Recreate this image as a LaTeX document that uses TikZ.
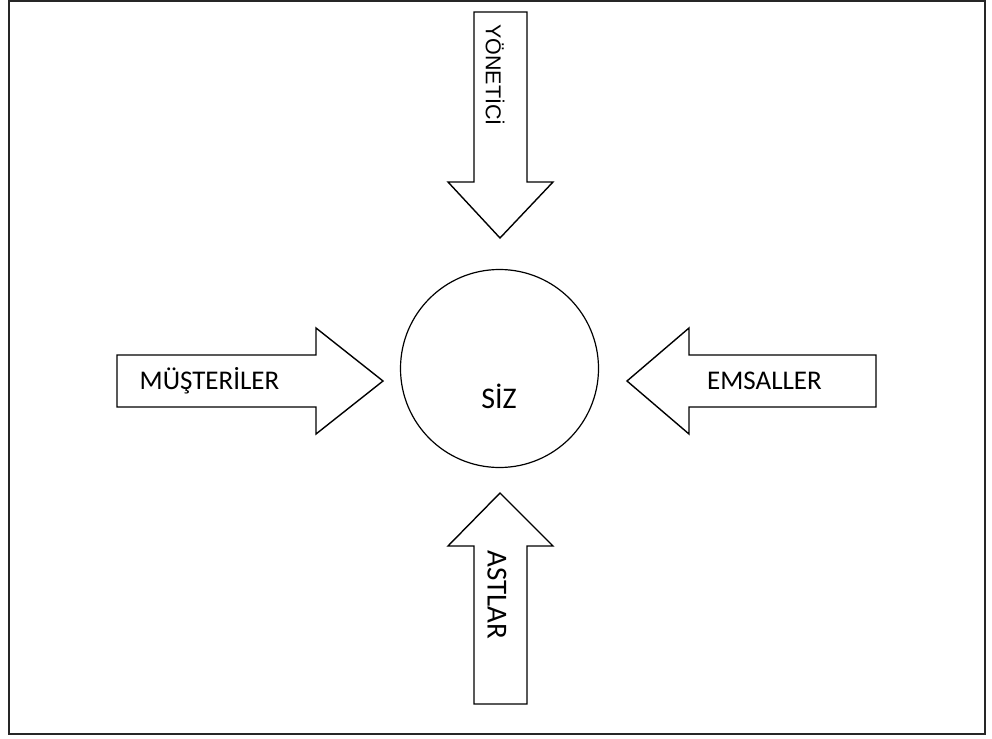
\documentclass[tikz,border=0pt]{standalone}
\usepackage{fontspec}
\setmainfont{Carlito}
\newfontfamily\arialfont{Liberation Sans}
\begin{document}
\begin{tikzpicture}[x=1pt,y=-1pt,
  shapeline/.style={draw=black,line width=1.4pt,line join=miter,fill=white},
  circleline/.style={draw=black,line width=1.2pt,fill=white},
  framestyle/.style={draw=black!85,line width=2pt},
  lbl/.style={inner sep=0pt,text=black}]
\useasboundingbox (0,0) rectangle (992,738);
\draw[framestyle] (9,1) rectangle (985,734);
% circle
\node[circleline,circle,minimum size=198pt,inner sep=0pt] (siz) at (499.5,368.5) {};
\node[lbl,font=\fontsize{30}{36}\selectfont] (sizt) at (499,396) {SİZ};
% top arrow
\draw[shapeline] (474,12) -- (527,12) -- (527,182) -- (553,182) -- (500,238) -- (448,182) -- (474,182) -- cycle;
\node[lbl,rotate=-90,font=\arialfont\fontsize{21.5}{26}\selectfont] (yon) at (495,75) {YÖNETİCİ};
% bottom arrow
\draw[shapeline] (474,704) -- (527,704) -- (527,546) -- (553,546) -- (500,493) -- (448,546) -- (474,546) -- cycle;
\node[lbl,rotate=-90,font=\fontsize{29}{34}\selectfont] (ast) at (497,595) {ASTLAR};
% left arrow
\draw[shapeline] (117,355) -- (316,355) -- (316,328) -- (383,381) -- (316,434) -- (316,407) -- (117,407) -- cycle;
\node[lbl,font=\fontsize{27}{32}\selectfont] (mus) at (209.5,381) {MÜŞTERİLER};
% right arrow
\draw[shapeline] (876,355) -- (689,355) -- (689,328) -- (627,381) -- (689,434) -- (689,407) -- (876,407) -- cycle;
\node[lbl,font=\fontsize{27}{32}\selectfont] (ems) at (764.5,381) {EMSALLER};
\end{tikzpicture}
\end{document}
